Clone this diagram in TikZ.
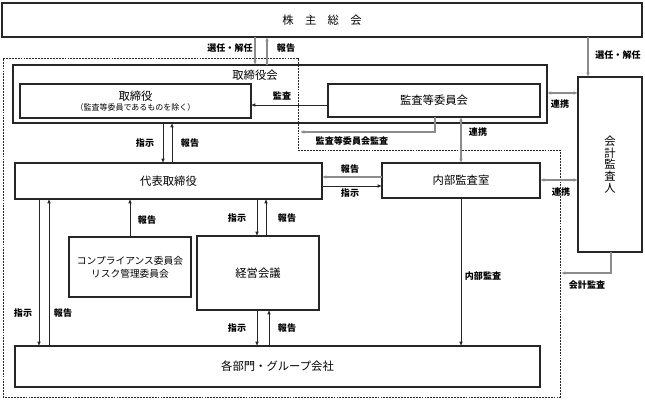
\documentclass[tikz,border=0pt]{standalone}
\usepackage{fontspec}
\setmainfont{Noto Sans CJK JP}
\usetikzlibrary{arrows.meta}
\tikzset{
  bx/.style={draw=black!85, line width=0.9pt, inner sep=0pt, outer sep=0pt, font=\fontsize{8.5}{9}\selectfont, align=center},
  lbl/.style={inner sep=0pt, font=\fontsize{6.8}{7}\selectfont\bfseries},
  tip/.style={-{Latex[length=3.2pt,width=2.6pt]}},
  blk/.style={draw=black!85, line width=0.5pt},
  gry/.style={draw=black!45, line width=0.9pt},
  ar/.style={blk, tip},
  gar/.style={gry, tip},
  gdbl/.style={gry, {Latex[length=3.2pt,width=2.6pt]}-{Latex[length=3.2pt,width=2.6pt]}},
  zone/.style={draw=black!85, line width=0.6pt, dash pattern=on 1.4pt off 0.8pt}
}
\begin{document}
\begin{tikzpicture}[x=0.75pt,y=-0.75pt]
\useasboundingbox (0,0) rectangle (645,402);
\fill[white] (0,0) rectangle (645,402);

% dashed zone
\draw[zone] (3,58) -- (298,58) -- (298,150) -- (560,150) -- (560,397) -- (3,397) -- cycle;

% boxes
\node[bx, minimum width=480pt, minimum height=25.5pt] (soukai) at (322,20) {株　主　総　会};
\node[bx, minimum width=400.5pt, minimum height=43.5pt] (torikai) at (280,94) {};
\node[inner sep=0pt, font=\fontsize{8.5}{9}\selectfont] (torikailbl) at (255,75) {取締役会};
\node[bx, minimum width=173.25pt, minimum height=25.5pt] (tori) at (135.5,101) {取締役\\[-1pt]{\fontsize{6}{7}\selectfont （監査等委員であるものを除く）}};
\node[bx, minimum width=159pt, minimum height=24.75pt] (kansa) at (434,100.5) {監査等委員会};
\node[bx, minimum width=230.25pt, minimum height=27pt] (daihyo) at (168.5,181) {代表取締役};
\node[bx, minimum width=118.5pt, minimum height=26.25pt] (naibu) at (461,180.5) {内部監査室};
\node[bx, minimum width=48pt, minimum height=131.25pt, font=\fontsize{8.5}{8.8}\selectfont] (kaikei) at (610,164.5) {会\\計\\監\\査\\人};
\node[bx, minimum width=91.5pt, minimum height=45pt, font=\fontsize{7.3}{9.5}\selectfont] (comp) at (130,267) {コンプライアンス委員会\\リスク管理委員会};
\node[bx, minimum width=91.5pt, minimum height=55.5pt] (keiei) at (258,273) {経営会議};
\node[bx, minimum width=393.75pt, minimum height=30.75pt] (kakubu) at (277.5,366.5) {各部門・グループ会社};

% free ends
\coordinate (kaend) at (300,132);
\coordinate (kkend) at (561,273);

% connectors
\draw[gar] (255,0 |- soukai.south) -- (255,0 |- torikai.north);
\draw[gar] (267,0 |- torikai.north) -- (267,0 |- soukai.south);
\draw[gar] (588,0 |- soukai.south) -- (588,0 |- kaikei.north);
\draw[ar] (0,105 -| kansa.west) -- (0,105 -| tori.east);
\draw[gar] (435,0 |- kansa.south) |- (kaend);
\draw[gdbl] (0,93 -| torikai.east) -- (0,93 -| kaikei.west);
\draw[gdbl] (461,0 |- kansa.south) -- (461,0 |- naibu.north);
\draw[ar] (163,0 |- torikai.south) -- (163,0 |- daihyo.north);
\draw[ar] (172,0 |- daihyo.north) -- (172,0 |- torikai.south);
\draw[gar] (0,177 -| naibu.west) -- (0,177 -| daihyo.east);
\draw[ar] (0,186 -| daihyo.east) -- (0,186 -| naibu.west);
\draw[gdbl] (0,180 -| naibu.east) -- (0,180 -| kaikei.west);
\draw[gar] (611,0 |- kaikei.south) |- (kkend);
\draw[ar] (461,0 |- naibu.south) -- (461,0 |- kakubu.north);
\draw[ar] (39,0 |- daihyo.south) -- (39,0 |- kakubu.north);
\draw[ar] (49,0 |- kakubu.north) -- (49,0 |- daihyo.south);
\draw[ar] (comp.north) -- (comp.north |- daihyo.south);
\draw[ar] (257,0 |- daihyo.south) -- (257,0 |- keiei.north);
\draw[ar] (266,0 |- keiei.north) -- (266,0 |- daihyo.south);
\draw[ar] (257,0 |- keiei.south) -- (257,0 |- kakubu.north);
\draw[ar] (269,0 |- kakubu.north) -- (269,0 |- keiei.south);

% labels
\node[lbl] (l1) at (230,48) {選任・解任};
\node[lbl] (l2) at (286,48) {報告};
\node[lbl] (l3) at (618,55) {選任・解任};
\node[lbl] (l4) at (282,96) {監査};
\node[lbl] (l5) at (352,141) {監査等委員会監査};
\node[lbl] (l6) at (478,132) {連携};
\node[lbl] (l7) at (560,104) {連携};
\node[lbl] (l8) at (145,143) {指示};
\node[lbl] (l9) at (190,143) {報告};
\node[lbl] (l10) at (350,169) {報告};
\node[lbl] (l11) at (350,193) {指示};
\node[lbl] (l12) at (561,192) {連携};
\node[lbl] (l13) at (147,220) {報告};
\node[lbl] (l14) at (237,218) {指示};
\node[lbl] (l15) at (287,218) {報告};
\node[lbl] (l16) at (483,276) {内部監査};
\node[lbl] (l17) at (587,285) {会計監査};
\node[lbl] (l18) at (23,313) {指示};
\node[lbl] (l19) at (63,313) {報告};
\node[lbl] (l20) at (237,328) {指示};
\node[lbl] (l21) at (287,328) {報告};
\end{tikzpicture}
\end{document}
